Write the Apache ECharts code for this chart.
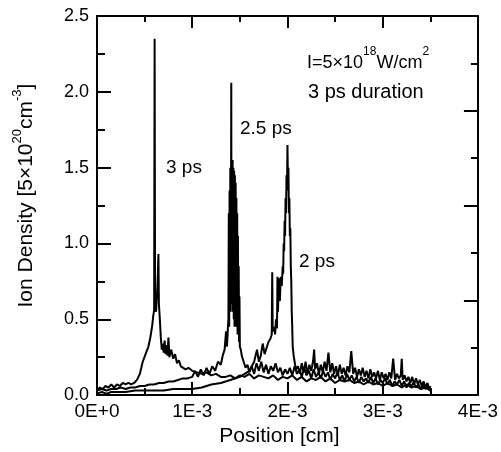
<!DOCTYPE html>
<html>
<head>
<meta charset="utf-8">
<script src="https://cdn.jsdelivr.net/npm/echarts@6/dist/echarts.min.js"></script>
<style>html,body{margin:0;padding:0;background:#fff}#c{width:501px;height:452px}</style>
</head>
<body>
<div id="c"></div>
<script>
// Positions in units of 1E-3 cm, densities in units of 5x10^20 cm^-3
const xTicks = ['0E+0', '1E-3', '2E-3', '3E-3', '4E-3'];

const pos3ps = [0.00,0.03,0.06,0.09,0.12,0.15,0.18,0.21,0.24,0.27,0.30,0.33,0.36,0.39,0.42,0.45,0.48,0.51,0.54,0.56,0.58,0.59,0.60,0.605,0.61,0.62,0.635,0.645,0.65,0.66,0.67,0.68,0.69,0.70,0.71,0.72,0.73,0.74,0.75,0.76,0.78,0.80,0.82,0.84,0.86,0.88,0.90,0.93,0.96,1.00,1.05,1.10,1.15,1.20,1.25,1.30,
  1.35,1.40,1.45,1.50,1.55,1.60,1.65,1.70,1.75,1.80,1.85,1.90,1.95,2.00,2.05,2.10,2.15,2.20,2.25,2.30,2.35,2.40,2.45,2.50,2.55,2.60,2.65,2.70,2.75,2.80,2.85,2.90,2.95,3.00,3.05,3.10,3.15,3.20,3.25,3.30,3.35,3.40,3.45,3.50];
const den3ps = [0.03,0.05,0.04,0.06,0.05,0.07,0.05,0.07,0.06,0.08,0.07,0.08,0.07,0.08,0.10,0.14,0.22,0.27,0.32,0.38,0.46,0.52,0.56,2.35,0.58,0.55,0.72,0.93,0.60,0.50,0.38,0.30,0.34,0.28,0.36,0.27,0.33,0.26,0.38,0.25,0.30,0.24,0.27,0.21,0.23,0.19,0.20,0.17,0.18,0.16,0.15,0.14,0.15,0.13,0.14,0.12,
  0.12,0.13,0.11,0.13,0.12,0.14,0.11,0.13,0.12,0.11,0.13,0.10,0.12,0.11,0.13,0.10,0.12,0.09,0.11,0.10,0.12,0.09,0.11,0.08,0.10,0.09,0.10,0.08,0.09,0.07,0.09,0.07,0.08,0.06,0.08,0.06,0.07,0.05,0.07,0.05,0.06,0.04,0.05,0.03];

const pos25ps = [0.00,0.05,0.10,0.15,0.20,0.25,0.30,0.35,0.40,0.45,0.50,0.55,0.60,0.65,0.70,0.75,0.80,0.85,0.90,0.95,1.00,1.03,1.06,1.09,1.12,1.15,1.18,1.21,1.24,1.27,1.30,1.32,1.34,1.355,1.365,1.375,
  1.380,1.384,1.388,1.392,1.396,1.400,1.404,1.408,1.410,1.412,1.416,1.420,1.424,1.428,1.432,1.436,1.440,1.444,1.448,1.452,1.456,1.460,1.464,1.468,1.472,1.476,1.480,1.484,1.488,1.492,1.496,1.500,1.51,1.52,1.54,1.56,1.58,1.60,
  1.625,1.65,1.675,1.70,1.725,1.75,1.775,1.80,1.825,1.85,1.875,1.90,1.925,1.95,1.975,2.00,2.025,2.05,2.075,2.10,2.125,2.15,2.175,2.20,2.225,2.25,2.275,2.30,2.325,2.35,2.375,2.40,2.425,2.45,2.475,2.50,2.525,2.55,2.575,2.60,2.625,2.65,2.675,2.70,2.725,2.75,2.775,2.80,2.825,2.85,2.875,2.90,2.925,2.95,2.975,3.00,3.025,3.05,3.075,3.10,3.125,3.15,3.175,3.20,3.225,3.25,3.275,3.30,3.325,3.35,3.375,3.40,3.425,3.45,3.475,3.50];
const den25ps = [0.03,0.04,0.03,0.04,0.04,0.05,0.04,0.05,0.05,0.06,0.06,0.07,0.07,0.08,0.08,0.09,0.09,0.10,0.11,0.11,0.12,0.16,0.12,0.17,0.13,0.18,0.14,0.19,0.16,0.22,0.20,0.26,0.30,0.42,0.32,0.45,
  0.50,1.20,0.45,1.35,0.60,1.50,0.55,1.45,2.06,0.70,1.52,0.60,1.55,0.55,1.50,0.50,1.48,0.45,1.45,0.50,1.40,0.45,1.30,0.45,1.20,0.40,1.05,0.40,0.85,0.35,0.65,0.32,0.30,0.26,0.22,0.18,0.20,0.15,
  0.19,0.14,0.21,0.16,0.22,0.15,0.20,0.14,0.19,0.16,0.21,0.15,0.18,0.13,0.17,0.14,0.18,0.13,0.19,0.14,0.17,0.12,0.18,0.13,0.16,0.11,0.17,0.12,0.15,0.11,0.16,0.12,0.15,0.10,0.14,0.11,0.15,0.10,0.13,0.09,0.14,0.10,0.13,0.09,0.12,0.08,0.12,0.09,0.11,0.08,0.12,0.08,0.11,0.07,0.10,0.08,0.11,0.07,0.10,0.06,0.09,0.07,0.10,0.06,0.09,0.05,0.08,0.06,0.08,0.05,0.07,0.04,0.07,0.04,0.06,0.03];

const pos2ps = [0.00,0.05,0.10,0.15,0.20,0.30,0.40,0.50,0.60,0.70,0.80,0.90,1.00,1.10,1.20,1.30,1.40,1.50,1.55,1.60,1.65,1.68,1.70,1.72,1.74,1.76,1.78,1.80,1.82,1.835,1.84,1.845,1.86,1.87,1.88,1.89,1.895,1.90,1.91,1.92,1.93,1.94,1.95,1.955,1.96,1.965,1.97,1.975,1.98,1.985,1.99,1.995,2.00,2.005,2.01,2.015,2.02,2.025,2.03,2.035,2.04,2.045,2.05,2.055,2.065,2.08,2.09,
  2.11,2.13,2.15,2.17,2.19,2.21,2.23,2.25,2.27,2.28,2.29,2.31,2.33,2.35,2.37,2.39,2.41,2.43,2.45,2.47,2.49,2.51,2.53,2.55,2.57,2.59,2.61,2.63,2.65,2.67,2.69,2.71,2.73,2.75,2.77,2.79,2.81,2.83,2.85,2.87,2.89,2.91,2.93,2.95,2.97,2.99,3.01,3.03,3.05,3.07,3.09,3.11,3.13,3.15,3.17,3.19,3.20,3.21,3.23,3.25,3.27,3.29,3.31,3.33,3.35,3.37,3.39,3.41,3.43,3.45,3.47,3.49,3.50];
const den2ps = [0.01,0.02,0.01,0.02,0.02,0.02,0.03,0.03,0.03,0.03,0.04,0.04,0.04,0.05,0.07,0.08,0.10,0.12,0.14,0.16,0.22,0.30,0.22,0.26,0.34,0.27,0.31,0.35,0.37,0.40,0.81,0.42,0.45,0.40,0.50,0.44,0.78,0.55,0.77,0.62,0.78,0.72,0.85,0.80,1.00,0.95,1.15,1.05,1.30,1.20,1.45,1.35,1.65,1.40,1.50,1.20,1.30,1.05,1.10,0.85,0.75,0.55,0.45,0.32,0.26,0.20,0.17,
  0.19,0.14,0.21,0.15,0.22,0.14,0.20,0.16,0.23,0.30,0.17,0.21,0.14,0.20,0.15,0.22,0.16,0.28,0.15,0.21,0.14,0.19,0.13,0.20,0.14,0.18,0.13,0.19,0.15,0.29,0.14,0.18,0.12,0.17,0.13,0.18,0.12,0.16,0.11,0.17,0.12,0.15,0.11,0.16,0.10,0.15,0.11,0.14,0.10,0.15,0.11,0.24,0.10,0.14,0.11,0.13,0.24,0.10,0.13,0.09,0.12,0.08,0.12,0.07,0.11,0.07,0.10,0.06,0.09,0.05,0.08,0.04,0.06];

const FONT = '"Liberation Sans", Arial, Helvetica, sans-serif';
const pair = (xs, ys) => xs.map((x, i) => [x, ys[i]]);

const chart = echarts.init(document.getElementById('c'), null, {renderer: 'canvas'});
const lineSeries = (name, xs, ys) => ({
  name, type: 'line', data: pair(xs, ys), symbol: 'none', animation: false,
  lineStyle: {color: '#000', width: 2}, z: 3
});
const axisCommon = {
  axisLine: {show: true, onZero: false, lineStyle: {color: '#000', width: 2}},
  splitLine: {show: false}
};
chart.setOption({
  backgroundColor: '#fff',
  animation: false,
  grid: {left: 97, right: 22, top: 16, bottom: 54},
  xAxis: [
    Object.assign({}, axisCommon, {
      type: 'value', min: 0, max: 4, interval: 1, position: 'bottom',
      axisTick: {inside: true, length: 13, lineStyle: {color: '#000', width: 2}},
      minorTick: {show: true, splitNumber: 2, length: 7, lineStyle: {color: '#000', width: 2}},
      axisLabel: {margin: 7, fontSize: 19, color: '#000', fontFamily: FONT,
        formatter: v => xTicks[Math.round(v)]},
      name: 'Position [cm]', nameLocation: 'middle', nameGap: 27,
      nameTextStyle: {fontSize: 21, color: '#000', fontFamily: FONT, padding: [0, 16, 0, 0]}
    }),
    Object.assign({}, axisCommon, {
      type: 'value', min: 0, max: 4, interval: 1, position: 'top',
      axisTick: {inside: true, length: 12, lineStyle: {color: '#000', width: 2}},
      minorTick: {show: true, splitNumber: 2, length: 6, lineStyle: {color: '#000', width: 2}},
      axisLabel: {show: false}
    })
  ],
  yAxis: [
    Object.assign({}, axisCommon, {
      type: 'value', min: 0, max: 2.5, interval: 0.5, position: 'left',
      axisTick: {inside: true, length: 14, lineStyle: {color: '#000', width: 2}},
      minorTick: {show: true, splitNumber: 2, length: 8, lineStyle: {color: '#000', width: 2}},
      axisLabel: {margin: 8, fontSize: 18, color: '#000', fontFamily: FONT,
        formatter: v => v.toFixed(1)},
      name: '{a|Ion Density [5×10}{s|20}{a|cm}{s|-3}{a|]}',
      nameLocation: 'middle', nameGap: 60, nameRotate: 90,
      nameTextStyle: {
        padding: [0, 0, 0, 20],
        rich: {
          a: {fontSize: 21, color: '#000', fontFamily: FONT, lineHeight: 26, verticalAlign: 'bottom'},
          s: {fontSize: 13, color: '#000', fontFamily: FONT, lineHeight: 26, verticalAlign: 'top'}
        }
      }
    }),
    Object.assign({}, axisCommon, {
      type: 'value', min: 0, max: 4, interval: 1, position: 'right',
      axisTick: {inside: true, length: 14, lineStyle: {color: '#000', width: 2}},
      minorTick: {show: true, splitNumber: 2, length: 7, lineStyle: {color: '#000', width: 2}},
      axisLabel: {show: false}
    })
  ],
  series: [
    lineSeries('3 ps', pos3ps, den3ps),
    lineSeries('2.5 ps', pos25ps, den25ps),
    lineSeries('2 ps', pos2ps, den2ps)
  ],
  graphic: [
    {type: 'text', left: 307, top: 46, style: {
      text: '{a|I=5×10}{s|18}{a|W/cm}{s|2}',
      rich: {
        a: {fontSize: 18, fill: '#000', fontFamily: FONT, lineHeight: 26, verticalAlign: 'bottom'},
        s: {fontSize: 12, fill: '#000', fontFamily: FONT, lineHeight: 26, verticalAlign: 'top'}
      }}},
    {type: 'text', left: 308, top: 82, style: {text: '3 ps duration', fontSize: 20, fill: '#000', fontFamily: FONT}},
    {type: 'text', left: 166, top: 158, style: {text: '3 ps', fontSize: 19, fill: '#000', fontFamily: FONT}},
    {type: 'text', left: 240, top: 119, style: {text: '2.5 ps', fontSize: 19, fill: '#000', fontFamily: FONT}},
    {type: 'text', left: 299, top: 252, style: {text: '2 ps', fontSize: 19, fill: '#000', fontFamily: FONT}}
  ]
});
</script>
</body>
</html>
